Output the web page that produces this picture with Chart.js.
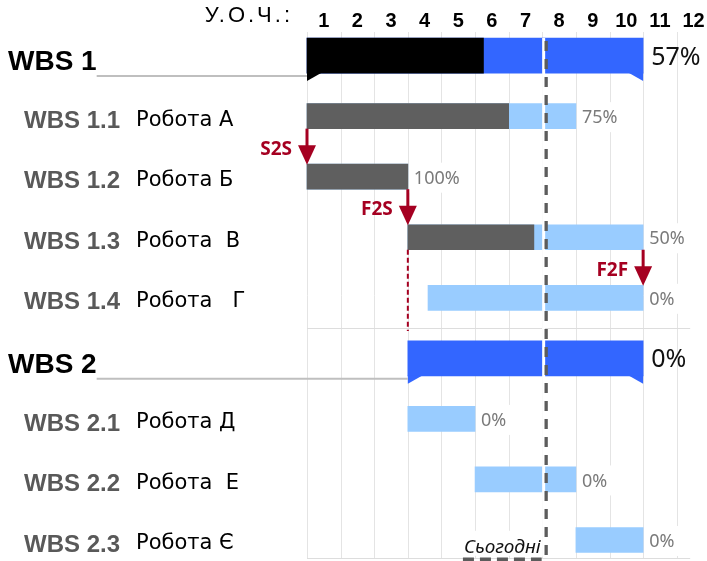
<!DOCTYPE html>
<html><head><meta charset="utf-8">
<script src="https://cdn.jsdelivr.net/npm/chart.js@4"></script>
<style>html,body{margin:0;padding:0;background:#fff;overflow:hidden}</style>
</head><body>
<canvas id="c" width="707" height="561"></canvas>
<script>
// ---- data ----
const rowCodes = ['WBS 1','WBS 1.1','WBS 1.2','WBS 1.3','WBS 1.4','WBS 2','WBS 2.1','WBS 2.2','WBS 2.3'];
const rowIsSummary = [true,false,false,false,false,true,false,false,false];
const taskNames = ['','Робота А','Робота Б','Робота  В','Робота   Г','','Робота Д','Робота  Е','Робота Є'];
const summaryPlan = [[0,10],null,null,null,null,[3,10],null,null,null];
const summaryDone = [[0,5.25],null,null,null,null,null,null,null,null];
const taskPlan = [null,[0,8],[0,3],[3,10],[3.6,10],null,[3,5],[5,8],[8,10]];
const taskDone = [null,[0,6],[0,3],[3,6.75],null,null,null,null,null];
const percentLabels = ['57%','75%','100%','50%','0%','0%','0%','0%','0%'];
const weekLabels = ['1','2','3','4','5','6','7','8','9','10','11','12'];
const axisTitle = 'У.О.Ч.:';
const todayValue = 7.1;
const todayLabel = 'Сьогодні';
const links = [
  {type:'S2S', from:1, to:2, at:'start'},
  {type:'F2S', from:2, to:3, at:'end'},
  {type:'F2F', from:3, to:4, at:'end'}
];
const constraintLine = {row:3, at:'start'};

// ---- styles ----
const C_BLUE = '#3366ff', C_BLACK = '#000000', C_LIGHT = '#99ccff', C_DARK = '#5f5f5f', C_RED = '#a50021';

function elemFor(chart, dsIndex, row){
  const meta = chart.getDatasetMeta(dsIndex);
  return meta.data[row];
}
function barEnds(el){
  return {left: Math.min(el.x, el.base), right: Math.max(el.x, el.base), top: el.y - el.height/2, bottom: el.y + el.height/2};
}

const ganttPlugin = {
  id: 'gantt',
  beforeDatasetsDraw(chart){
    const {ctx, scales:{x, y}} = chart;
    const step = y.getPixelForValue(1) - y.getPixelForValue(0);
    const top = y.getPixelForValue(0) - step*0.39;
    const bottom = y.getPixelForValue(rowCodes.length-1) + step*0.31;
    ctx.save();
    ctx.strokeStyle = '#e4e4e4'; ctx.lineWidth = 1;
    for (let k = Math.ceil(x.min); k <= Math.floor(x.max); k++){
      const px = Math.round(x.getPixelForValue(k)) + 0.5;
      ctx.beginPath(); ctx.moveTo(px, top); ctx.lineTo(px, bottom); ctx.stroke();
    }
    // group separator & bottom line
    const sepRow = rowIsSummary.indexOf(true, 1);
    const sepY = Math.round((y.getPixelForValue(sepRow-1) + y.getPixelForValue(sepRow))/2) + 0.5;
    const rightEnd = x.getPixelForValue(11.4);
    ctx.strokeStyle = '#dddddd';
    ctx.beginPath(); ctx.moveTo(x.left, sepY); ctx.lineTo(rightEnd, sepY); ctx.stroke();
    ctx.beginPath(); ctx.moveTo(x.left, Math.round(bottom)-0.5); ctx.lineTo(rightEnd, Math.round(bottom)-0.5); ctx.stroke();
    // axis title
    ctx.fillStyle = '#000';
    ctx.font = '22px "Liberation Sans"';
    ctx.textBaseline = 'middle'; ctx.textAlign = 'right';
    ctx.letterSpacing = '3px';
    ctx.fillText(axisTitle, x.left - 14, 16);
    ctx.restore();
  },
  afterDatasetsDraw(chart){
    const {ctx, scales:{x, y}} = chart;
    const step = y.getPixelForValue(1) - y.getPixelForValue(0);
    const bottom = y.getPixelForValue(rowCodes.length-1) + step*0.31;
    ctx.save();
    // summary notches
    rowCodes.forEach((code, i) => {
      if (!rowIsSummary[i]) return;
      const el = elemFor(chart, 2, i);
      if (!el || summaryPlan[i] == null) return;
      const b = barEnds(el);
      const leftColor = (summaryDone[i] && summaryDone[i][1] > summaryPlan[i][0]) ? C_BLACK : C_BLUE;
      ctx.fillStyle = leftColor;
      ctx.beginPath(); ctx.moveTo(b.left, b.bottom - 0.5); ctx.lineTo(b.left, b.bottom + 8); ctx.lineTo(b.left + 15, b.bottom - 0.5); ctx.closePath(); ctx.fill();
      ctx.fillStyle = C_BLUE;
      ctx.beginPath(); ctx.moveTo(b.right, b.bottom - 0.5); ctx.lineTo(b.right, b.bottom + 8); ctx.lineTo(b.right - 15, b.bottom - 0.5); ctx.closePath(); ctx.fill();
      // leader line from label
      ctx.font = 'bold 28px "Liberation Sans"';
      const tw = ctx.measureText(code).width;
      ctx.strokeStyle = '#bfbfbf'; ctx.lineWidth = 2;
      ctx.beginPath(); ctx.moveTo(8 + tw, b.bottom + 3); ctx.lineTo(b.left, b.bottom + 3); ctx.stroke();
    });
    // constraint dashed line
    {
      const el = elemFor(chart, 3, constraintLine.row);
      const b = barEnds(el);
      const px = constraintLine.at === 'start' ? b.left : b.right;
      const sepRow = rowIsSummary.indexOf(true, 1);
      const sepY = (y.getPixelForValue(sepRow-1) + y.getPixelForValue(sepRow))/2;
      ctx.strokeStyle = C_RED; ctx.lineWidth = 2; ctx.setLineDash([5,3]);
      ctx.beginPath(); ctx.moveTo(px, b.bottom); ctx.lineTo(px, sepY + 3); ctx.stroke();
      ctx.setLineDash([]);
    }
    // today line
    const tx = x.getPixelForValue(todayValue);
    const topBar = barEnds(elemFor(chart, 2, 0)).top;
    ctx.strokeStyle = '#ffffff'; ctx.lineWidth = 3;
    ctx.beginPath(); ctx.moveTo(tx - 2, topBar); ctx.lineTo(tx - 2, bottom - 2); ctx.stroke();
    ctx.strokeStyle = '#5c5c5c'; ctx.lineWidth = 3.3; ctx.setLineDash([10,8]);
    ctx.beginPath(); ctx.moveTo(tx + 0.5, topBar + 3); ctx.lineTo(tx + 0.5, bottom); ctx.stroke();
    ctx.setLineDash([]);
    // today label
    ctx.font = 'italic 19px "Noto Sans"';
    const lw = ctx.measureText(todayLabel).width;
    ctx.fillStyle = '#fff';
    ctx.fillRect(tx - 6 - lw - 2, bottom - 28, lw + 4, 25);
    ctx.fillStyle = '#111'; ctx.textAlign = 'right'; ctx.textBaseline = 'middle';
    ctx.fillText(todayLabel, tx - 5, bottom - 11);
    ctx.strokeStyle = '#5c5c5c'; ctx.lineWidth = 3.5; ctx.setLineDash([11,6]);
    ctx.beginPath(); ctx.moveTo(tx - 6 - lw, bottom + 0.5); ctx.lineTo(tx - 4, bottom + 0.5); ctx.stroke();
    ctx.setLineDash([]);
    // links
    links.forEach(l => {
      const fb = barEnds(elemFor(chart, 3, l.from));
      const tb = barEnds(elemFor(chart, 3, l.to));
      const px = l.at === 'start' ? fb.left : fb.right;
      const y1 = fb.bottom, y2 = tb.top;
      const head = 19;
      ctx.strokeStyle = C_RED; ctx.lineWidth = 3;
      ctx.beginPath(); ctx.moveTo(px, y1); ctx.lineTo(px, y2 - head + 1); ctx.stroke();
      ctx.fillStyle = C_RED;
      ctx.beginPath(); ctx.moveTo(px - 9, y2 - head); ctx.lineTo(px + 9, y2 - head); ctx.lineTo(px, y2 + 0.5); ctx.closePath(); ctx.fill();
      ctx.font = 'bold 19px "Noto Sans"';
      ctx.textAlign = 'right'; ctx.textBaseline = 'middle';
      ctx.fillText(l.type, px - 15, y2 - 15);
    });
    // percent labels
    rowCodes.forEach((code, i) => {
      const dsIdx = rowIsSummary[i] ? 2 : 3;
      const el = elemFor(chart, dsIdx, i);
      if (!el) return;
      const b = barEnds(el);
      if (rowIsSummary[i]){
        ctx.font = '25px "Noto Sans"'; ctx.fillStyle = '#111';
        ctx.textAlign = 'left'; ctx.textBaseline = 'middle';
        ctx.fillText(percentLabels[i], b.right + 8, el.y + 2);
      } else {
        ctx.font = '18px "Noto Sans"';
        const w = ctx.measureText(percentLabels[i]).width;
        ctx.fillStyle = '#fff';
        ctx.fillRect(b.right + 2, el.y - 14, w + 12, 30);
        ctx.fillStyle = '#7a7a7a';
        ctx.textAlign = 'left'; ctx.textBaseline = 'middle';
        ctx.fillText(percentLabels[i], b.right + 6, el.y + 2);
      }
    });
    // left labels
    rowCodes.forEach((code, i) => {
      const cy = y.getPixelForValue(i);
      ctx.textAlign = 'left'; ctx.textBaseline = 'middle';
      if (rowIsSummary[i]){
        ctx.font = 'bold 28px "Liberation Sans"'; ctx.fillStyle = '#000';
        ctx.fillText(code, 8, cy + 7);
      } else {
        ctx.font = 'bold 24px "Liberation Sans"'; ctx.fillStyle = '#595959';
        ctx.fillText(code, 24, cy + 5);
        ctx.font = '21px "DejaVu Sans"'; ctx.fillStyle = '#000';
        ctx.fillText(taskNames[i], 136, cy + 4);
      }
    });
    ctx.restore();
  }
};

new Chart(document.getElementById('c'), {
  type: 'bar',
  data: {
    labels: rowCodes,
    datasets: [
      {label:'summaryDone', data: summaryDone, backgroundColor: C_BLACK, barThickness: 35, grouped: false, clip: false},
      {label:'taskDone', data: taskDone, backgroundColor: C_DARK, barThickness: 25, grouped: false, clip: false},
      {label:'summaryPlan', data: summaryPlan, backgroundColor: C_BLUE, barThickness: 35, grouped: false, clip: false},
      {label:'taskPlan', data: taskPlan, backgroundColor: C_LIGHT, barThickness: 25, grouped: false, clip: false}
    ]
  },
  options: {
    indexAxis: 'y',
    responsive: false,
    animation: false,
    devicePixelRatio: 1,
    layout: {padding: {left: 307, right: 0, top: 0, bottom: 21}},
    plugins: {legend: {display: false}, tooltip: {enabled: false}},
    scales: {
      x: {
        type: 'linear', position: 'top', min: 0, max: 11.9,
        grid: {display: false, drawTicks: false}, border: {display: false},
        afterBuildTicks: s => { s.ticks = weekLabels.map((l, i) => ({value: i + 0.5})); },
        afterFit: s => { s.paddingLeft = 0; s.paddingRight = 0; s.height = 55.6; },
        ticks: {
          autoSkip: false, maxRotation: 0, padding: 22, color: '#000',
          font: {family: '"Liberation Sans"', size: 20, weight: 'bold'},
          callback: (v, i) => weekLabels[i]
        }
      },
      y: {type: 'category', offset: false, display: false}
    }
  },
  plugins: [ganttPlugin]
});
</script>
</body></html>
